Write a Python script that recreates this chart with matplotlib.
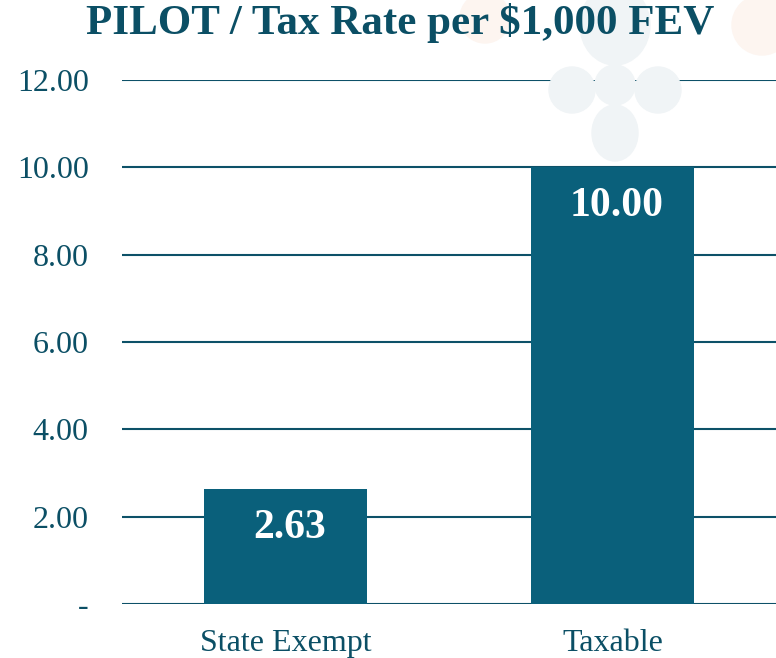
import matplotlib.pyplot as plt
from matplotlib.patches import Ellipse

categories = ['State Exempt', 'Taxable']
rates = [2.63, 10.00]
tick_values = [0, 2, 4, 6, 8, 10, 12]
tick_labels = ['-', '2.00', '4.00', '6.00', '8.00', '10.00', '12.00']

bar_color = '#0a607b'
line_color = '#0d5168'
text_color = '#0b4f65'

plt.rcParams['font.family'] = ['Liberation Serif', 'DejaVu Serif']

fig = plt.figure(figsize=(7.76, 6.58), dpi=100)

# faint logo watermark in the background
for (cx, cy, w, h, c) in [(615, 25, 70, 80, '#f0f4f6'), (615, 85, 40, 40, '#f0f4f6'),
                          (572, 90, 46, 46, '#f0f4f6'), (658, 90, 46, 46, '#f0f4f6'),
                          (615, 133, 46, 56, '#f0f4f6'),
                          (485, 18, 50, 50, '#fdf5f0'), (762, 25, 60, 60, '#fdf5f0')]:
    fig.patches.append(Ellipse((cx / 776, 1 - cy / 658), w / 776, h / 658,
                               transform=fig.transFigure, color=c, zorder=0))

ax = fig.add_axes([122 / 776, 54 / 658, 654 / 776, 524 / 658])
ax.patch.set_alpha(0)

x = range(len(categories))
bars = ax.bar(x, rates, width=0.5, color=bar_color, zorder=3)

for v in tick_values:
    ax.axhline(v, color=line_color, lw=1.5, zorder=1)

for b, v in zip(bars, rates):
    ax.annotate(f'{v:.2f}', (b.get_x() + b.get_width() / 2, v),
                xytext=(3, -28), textcoords='offset points',
                ha='center', va='center', color='white',
                fontsize=30, fontweight='bold', zorder=4)

ax.set_xlim(-0.5, 1.5)
ax.set_ylim(0, 12)
ax.set_yticks(tick_values)
ax.set_yticklabels(tick_labels)
ax.set_xticks(list(x))
ax.set_xticklabels(categories)
ax.tick_params(axis='y', length=0, pad=24, labelsize=23, labelcolor=text_color)
ax.tick_params(axis='x', length=0, pad=18, labelsize=23, labelcolor=text_color)
for s in ax.spines.values():
    s.set_visible(False)

fig.text(400 / 776, 1 - 23 / 658, 'PILOT / Tax Rate per $1,000 FEV',
         ha='center', va='center', fontsize=31, fontweight='bold', color=text_color)

fig.savefig('out.png', dpi=100)
